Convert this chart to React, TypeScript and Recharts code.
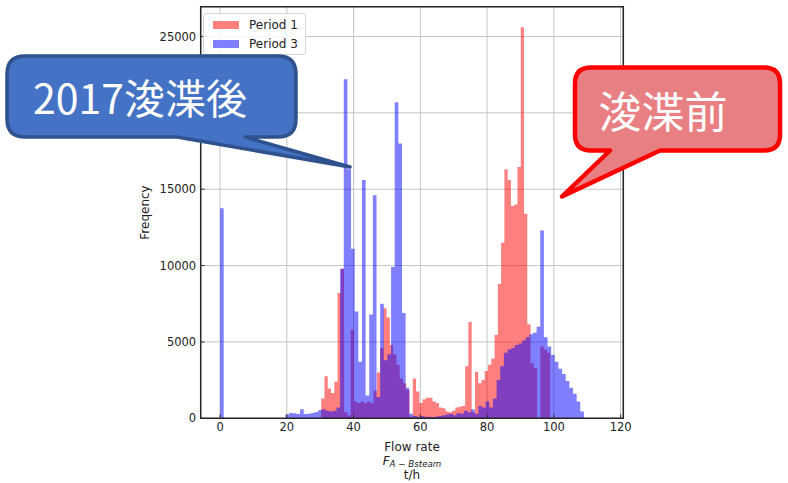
import React from 'react';
import {
  ComposedChart,
  Area,
  XAxis,
  YAxis,
  CartesianGrid,
  ReferenceArea,
  Legend,
  Label,
} from 'recharts';

// ---- data -------------------------------------------------------------
const SERIES_NAMES = ['Period 1', 'Period 3'];
const X_TICKS = [0, 20, 40, 60, 80, 100, 120];
const Y_TICKS = [0, 5000, 10000, 15000, 20000, 25000];
// tick whose label is hidden behind the blue callout in the reference
const Y_TICK_COVERED = 20000;
const X_DOMAIN: [number, number] = [-5.8, 120.8];
const Y_DOMAIN: [number, number] = [0, 26950];

// Period 1 (before dredging): histogram bins
const PERIOD1_BIN_START = 30.3;
const PERIOD1_BIN_WIDTH = 0.98;
const period1Counts = [
  1300, 2750, 1950, 1650, 2400, 8200, 9800, 400, 200, 5800,
  1100, 1000, 1100, 1000, 1100, 1000, 1800, 3000, 4600, 7200,
  6600, 4800, 4200, 3500, 2600, 2300, 1850, 100, 2600, 1750,
  1000, 1250, 1350, 1350, 1100, 1000, 700, 650, 450, 400,
  500, 700, 750, 800, 3400, 6300, 400, 3050, 2300, 2500,
  3100, 3500, 3900, 5450, 8800, 11500, 16300, 15600, 13900, 14000,
  16450, 25600, 13400, 6150, 3600, 3300, 0, 4700, 4500, 4300,
];

// Period 3 (after 2017 dredging): histogram bins
const PERIOD3_BIN_START = 0;
const PERIOD3_BIN_WIDTH = 1.09;
const period3Counts = [
  13750, 0, 0, 0, 0, 0, 0, 0, 0, 0,
  0, 0, 0, 0, 0, 0, 0, 0, 250, 350,
  330, 280, 600, 280, 300, 350, 420, 550, 600, 500,
  450, 500, 700, 9800, 22200, 16300, 11100, 7000, 3700, 15600,
  1500, 6800, 14600, 1400, 7500, 3800, 4200, 9900, 20700, 18000,
  6900, 2000, 300, 150, 100, 150, 100, 100, 80, 100,
  150, 200, 250, 300, 200, 350, 300, 500, 400, 600,
  300, 800, 700, 1100, 700, 1300, 2500, 3400, 4300, 4500,
  4600, 4800, 4900, 5100, 5300, 5500, 5600, 6000, 12300, 5300,
  4700, 4150, 3700, 3250, 2900, 2450, 2000, 1600, 1100, 450,
];

// ---- table built from the arrays ------------------------------------
function binEdges(start: number, width: number, n: number): number[] {
  const e: number[] = [];
  for (let i = 0; i <= n; i++) e.push(Math.round((start + i * width) * 1000) / 1000);
  return e;
}
const p1Edges = binEdges(PERIOD1_BIN_START, PERIOD1_BIN_WIDTH, period1Counts.length);
const p3Edges = binEdges(PERIOD3_BIN_START, PERIOD3_BIN_WIDTH, period3Counts.length);

function countAt(edges: number[], counts: number[], x: number): number {
  if (x < edges[0] || x >= edges[edges.length - 1]) return 0;
  let i = 0;
  while (i + 1 < counts.length && edges[i + 1] <= x) i++;
  return counts[i];
}

const xs = Array.from(new Set([...p1Edges, ...p3Edges])).sort((a, b) => a - b);
const histData = xs.map((x) => ({
  x,
  p1: countAt(p1Edges, period1Counts, x),
  p3: countAt(p3Edges, period3Counts, x),
}));

// ---- styles ------------------------------------------------------------
const TICK_FONT = { fontSize: 11.5, fill: '#222', fontFamily: 'DejaVu Sans' };
const RED = '#ff0000';
const BLUE = '#0000ff';

const renderLegend = () => (
  <div
    style={{
      width: 103,
      height: 42,
      boxSizing: 'border-box',
      border: '1px solid #d6d6d6',
      borderRadius: 3,
      background: 'rgba(255,255,255,0.85)',
      fontFamily: 'DejaVu Sans',
      fontSize: 12,
      color: '#222',
      position: 'relative',
    }}
  >
    {SERIES_NAMES.map((name, i) => (
      <div key={name} style={{ position: 'absolute', left: 9, top: 6 + i * 19, height: 10, display: 'flex', alignItems: 'center' }}>
        <span
          style={{
            display: 'inline-block',
            width: 26,
            height: 8,
            background: i === 0 ? 'rgba(255,0,0,0.5)' : 'rgba(0,0,255,0.5)',
            marginRight: 10,
          }}
        />
        <span style={{ lineHeight: '10px' }}>{name}</span>
      </div>
    ))}
  </div>
);

const XTitle = (props: any) => {
  const vb = props.viewBox || { x: 0, y: 0, width: 0, height: 0 };
  const cx = vb.x + vb.width / 2;
  const y0 = vb.y;
  return (
    <g fontFamily="DejaVu Sans" fill="#222" textAnchor="middle">
      <text x={cx} y={y0 + 33} fontSize={12}>Flow rate</text>
      <text x={cx} y={y0 + 46.5} fontSize={12}>
        <tspan fontStyle="italic">F</tspan>
        <tspan fontStyle="italic" fontSize={8.7} dy={2}>A − Bsteam</tspan>
      </text>
      <text x={cx} y={y0 + 61} fontSize={12}>t/h</text>
    </g>
  );
};

const YTitle = (props: any) => {
  const vb = props.viewBox || { x: 0, y: 0, width: 0, height: 0 };
  const x = 149;
  const cy = vb.y + vb.height / 2;
  return (
    <text
      x={x}
      y={cy}
      fontSize={12}
      fontFamily="DejaVu Sans"
      fill="#222"
      textAnchor="middle"
      transform={`rotate(-90, ${x}, ${cy})`}
    >
      Freqency
    </text>
  );
};

const yTickFormatter = (v: number) => (v === Y_TICK_COVERED ? '' : String(v));

export default function App() {
  return (
    <div style={{ position: 'absolute', left: 0, top: 0, width: 788, height: 483, background: '#fff' }}>
      <ComposedChart
        width={788}
        height={483}
        data={histData}
        margin={{ top: 6.7, right: 164.7, bottom: 34.7, left: 140.7 }}
      >
        <CartesianGrid stroke="#c4c4c4" strokeWidth={1} />
        <XAxis
          dataKey="x"
          type="number"
          domain={X_DOMAIN}
          ticks={X_TICKS}
          allowDataOverflow
          interval={0}
          height={30}
          axisLine={false}
          tickSize={-4}
          tickMargin={9}
          tickLine={{ stroke: '#333' }}
          tick={TICK_FONT}
        >
          <Label content={<XTitle />} />
        </XAxis>
        <YAxis
          type="number"
          domain={Y_DOMAIN}
          ticks={Y_TICKS}
          allowDataOverflow
          interval={0}
          width={60}
          axisLine={false}
          tickSize={-4}
          tickMargin={8.5}
          tickLine={{ stroke: '#333' }}
          tick={TICK_FONT}
          tickFormatter={yTickFormatter}
        >
          <Label content={<YTitle />} />
        </YAxis>
        <Area
          type="stepAfter"
          dataKey="p1"
          name={SERIES_NAMES[0]}
          fill={RED}
          fillOpacity={0.5}
          stroke="none"
          dot={false}
          activeDot={false}
          isAnimationActive={false}
        />
        <Area
          type="stepAfter"
          dataKey="p3"
          name={SERIES_NAMES[1]}
          fill={BLUE}
          fillOpacity={0.5}
          stroke="none"
          dot={false}
          activeDot={false}
          isAnimationActive={false}
        />
        <ReferenceArea
          x1={X_DOMAIN[0]}
          x2={X_DOMAIN[1]}
          y1={Y_DOMAIN[0]}
          y2={Y_DOMAIN[1]}
          fill="none"
          fillOpacity={0}
          stroke="#262626"
          strokeWidth={1.5}
          ifOverflow="visible"
        />
        <Legend
          content={renderLegend}
          layout="horizontal"
          verticalAlign="middle"
          align="center"
          wrapperStyle={{ left: 203, top: 13, width: 103, height: 42 }}
        />
      </ComposedChart>
      <svg
        width={788}
        height={483}
        style={{ position: 'absolute', left: 0, top: 0, pointerEvents: 'none' }}
      >
        {/* blue callout */}
        <path
          d="M 25,56 H 278 Q 296,56 296,74 V 119 Q 296,137 278,137 H 245 L 350,167 L 177,137 H 25 Q 7,137 7,119 V 74 Q 7,56 25,56 Z"
          fill="#4472c4"
          stroke="#2f528f"
          strokeWidth={3.5}
          strokeLinejoin="round"
        />
        <text x={33} y={113.5} fontSize={41} fill="#fff" fontFamily="'Noto Sans CJK JP'">
          2017浚渫後
        </text>
        {/* red callout */}
        <path
          d="M 591,67.5 H 764 Q 780,67.5 780,83.5 V 134.5 Q 780,150.5 764,150.5 H 660 L 562,196.5 L 610,150.5 H 591 Q 575,150.5 575,134.5 V 83.5 Q 575,67.5 591,67.5 Z"
          fill="#e88083"
          stroke="#ff0000"
          strokeWidth={4.5}
          strokeLinejoin="round"
        />
        <text x={598.5} y={128} fontSize={43} fill="#fff" fontFamily="'Noto Sans CJK JP'">
          浚渫前
        </text>
      </svg>
    </div>
  );
}
